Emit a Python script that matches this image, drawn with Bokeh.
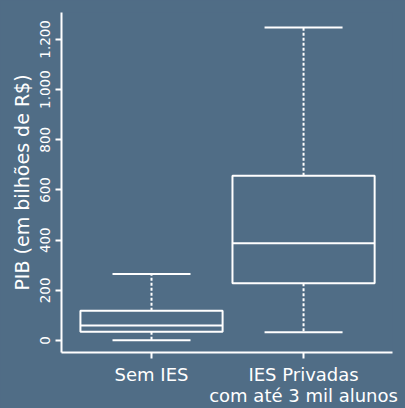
from bokeh.plotting import figure
from bokeh.models import Range1d, FixedTicker, Title
from bokeh.embed import file_html
from bokeh.resources import INLINE

# Data (PIB em bilhões de R$)
categories = ["Sem IES", "IES Privadas\ncom até 3 mil alunos"]
whisker_low = [1, 33]
q1 = [35, 228]
median = [60, 388]
q3 = [119, 657]
whisker_high = [265, 1247]
y_ticks = [0, 200, 400, 600, 800, 1000, 1200]
y_tick_labels = ["0", "200", "400", "600", "800", "1.000", "1.200"]
y_label = "PIB (em bilhões de R$)"

BG = "#506d86"
FONT = "DejaVu Sans"

xs = list(range(1, len(categories) + 1))

p = figure(width=405, height=408, output_backend="svg", toolbar_location=None,
           x_range=Range1d(0.408, 2.585), y_range=Range1d(-47.5, 1307),
           min_border_left=61, min_border_right=13, min_border_top=12, min_border_bottom=54)
p.background_fill_color = BG
p.border_fill_color = BG
p.outline_line_color = None
p.xgrid.visible = False
p.ygrid.visible = False

box_w = 0.935
cap_w = 0.513
p.vbar(x=xs, width=box_w, bottom=q1, top=q3, fill_color=None,
       line_color="white", line_width=2)
p.segment(x0=[x - box_w / 2 for x in xs], x1=[x + box_w / 2 for x in xs],
          y0=median, y1=median, line_color="white", line_width=2)
p.segment(x0=xs, x1=xs, y0=q3, y1=whisker_high, line_color="white",
          line_width=2, line_dash="3 2")
p.segment(x0=xs, x1=xs, y0=q1, y1=whisker_low, line_color="white",
          line_width=2, line_dash="3 2")
p.segment(x0=[x - cap_w / 2 for x in xs], x1=[x + cap_w / 2 for x in xs],
          y0=whisker_high, y1=whisker_high, line_color="white", line_width=2)
p.segment(x0=[x - cap_w / 2 for x in xs], x1=[x + cap_w / 2 for x in xs],
          y0=whisker_low, y1=whisker_low, line_color="white", line_width=2)

for ax in (p.xaxis[0], p.yaxis[0]):
    ax.axis_line_color = "white"
    ax.axis_line_width = 2
    ax.major_tick_line_color = "white"
    ax.major_tick_line_width = 2
    ax.major_tick_out = 6
    ax.major_tick_in = 0
    ax.minor_tick_line_color = None
    ax.major_label_text_color = "white"
    ax.major_label_text_font = FONT

p.xaxis.ticker = FixedTicker(ticks=xs)
p.xaxis.major_label_overrides = {x: c for x, c in zip(xs, categories)}
p.xaxis.major_label_text_font_size = "18px"
p.xaxis.major_label_text_line_height = 1.0
p.xaxis.major_label_standoff = 5

p.yaxis.ticker = FixedTicker(ticks=y_ticks)
p.yaxis.major_label_overrides = {t: l for t, l in zip(y_ticks, y_tick_labels)}
p.yaxis.major_label_orientation = "vertical"
p.yaxis.major_label_text_font_size = "13.5px"
p.yaxis.major_label_standoff = 5

ytitle = Title(text=y_label, align="center", offset=15, standoff=9,
               text_color="white", text_font=FONT, text_font_size="19px",
               text_font_style="normal")
p.add_layout(ytitle, "left")

html = file_html(p, INLINE)
html = html.replace("<head>", "<head><style>html,body{background:%s;overflow:hidden;}</style>" % BG, 1)
open("out.html", "w").write(html)
